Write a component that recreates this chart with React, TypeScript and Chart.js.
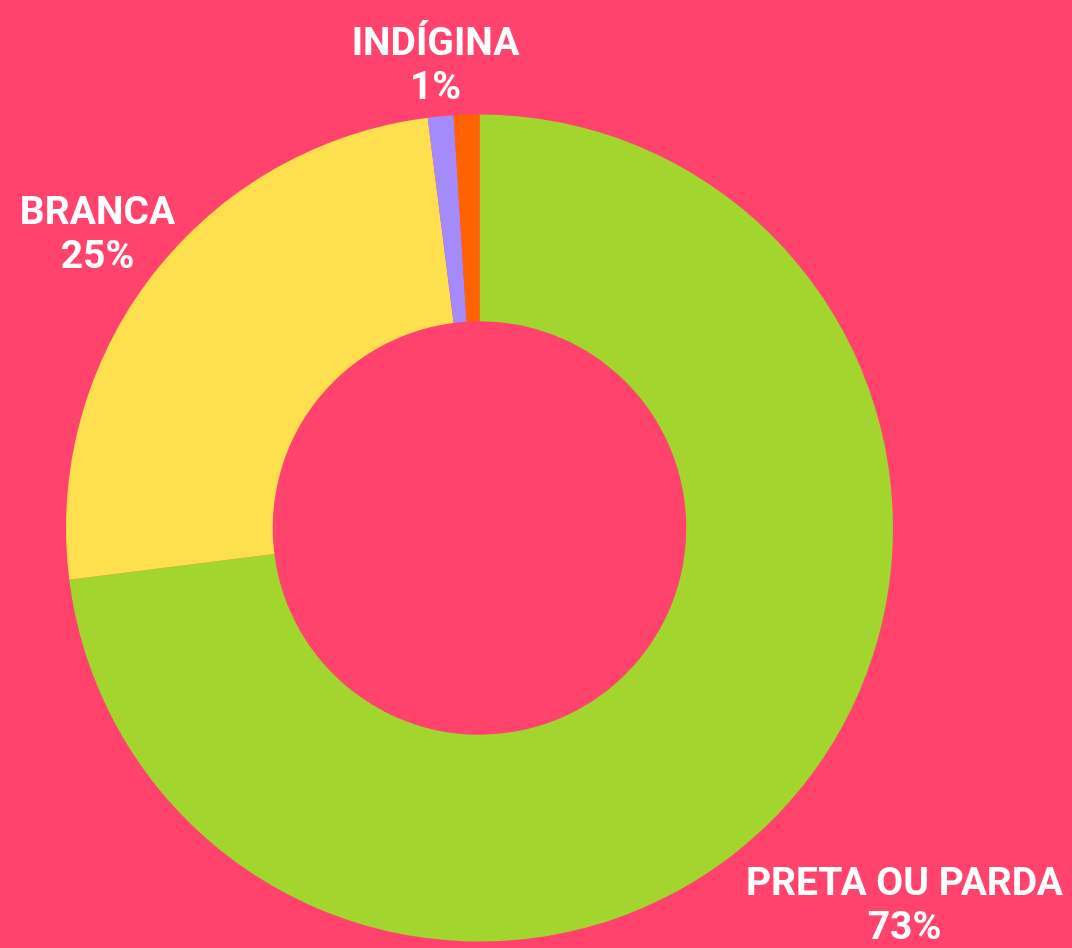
import React, { useEffect, useRef } from "react";
import { Chart, registerables } from "chart.js";

Chart.register(...registerables);

const categories = ["PRETA OU PARDA", "BRANCA", "INDÍGINA", "AMARELA"];
const values = [73, 25, 1, 1];
const valueLabels = ["73%", "25%", "1%", ""];
const showLabel = [true, true, true, false];

const BG = "#FF436C";
const sliceColors = ["#A2D52E", "#FEDF4D", "#A48AFA", "#FF6200"];
const labelGap = [153, 70, 54, 0];

const labelPlugin = {
  id: "outerLabels",
  afterDatasetsDraw(chart: any) {
    const ctx = chart.ctx;
    const meta = chart.getDatasetMeta(0);
    ctx.save();
    ctx.fillStyle = "#FFFFFF";
    ctx.font = "700 39px Roboto, 'DejaVu Sans', sans-serif";
    ctx.textAlign = "center";
    ctx.textBaseline = "alphabetic";
    meta.data.forEach((arc: any, i: number) => {
      if (!showLabel[i]) return;
      const p = arc.getProps(["x", "y", "startAngle", "endAngle", "outerRadius"], true);
      const mid = (p.startAngle + p.endAngle) / 2;
      const r = p.outerRadius + labelGap[i];
      const cx = p.x + Math.cos(mid) * r;
      const cy = p.y + Math.sin(mid) * r;
      ctx.fillText(categories[i], cx, cy - 8);
      ctx.fillText(valueLabels[i], cx, cy + 36);
    });
    ctx.restore();
  },
};

export default function App() {
  const ref = useRef<HTMLCanvasElement>(null);
  useEffect(() => {
    if (!ref.current) return;
    const chart = new Chart(ref.current, {
      type: "doughnut",
      data: {
        labels: categories,
        datasets: [
          {
            data: values,
            backgroundColor: sliceColors,
            borderWidth: 0,
          },
        ],
      },
      options: {
        responsive: false,
        animation: false,
        cutout: "50%",
        layout: { padding: { left: 66, top: 114, right: 179, bottom: 6 } },
        plugins: {
          legend: { display: false },
          tooltip: { enabled: false },
        },
      },
      plugins: [labelPlugin],
    });
    return () => chart.destroy();
  }, []);
  return (
    <div style={{ position: "fixed", left: 0, top: 0, width: 1072, height: 948, background: BG }}>
      <canvas ref={ref} width={1072} height={948} style={{ display: "block" }} />
    </div>
  );
}
